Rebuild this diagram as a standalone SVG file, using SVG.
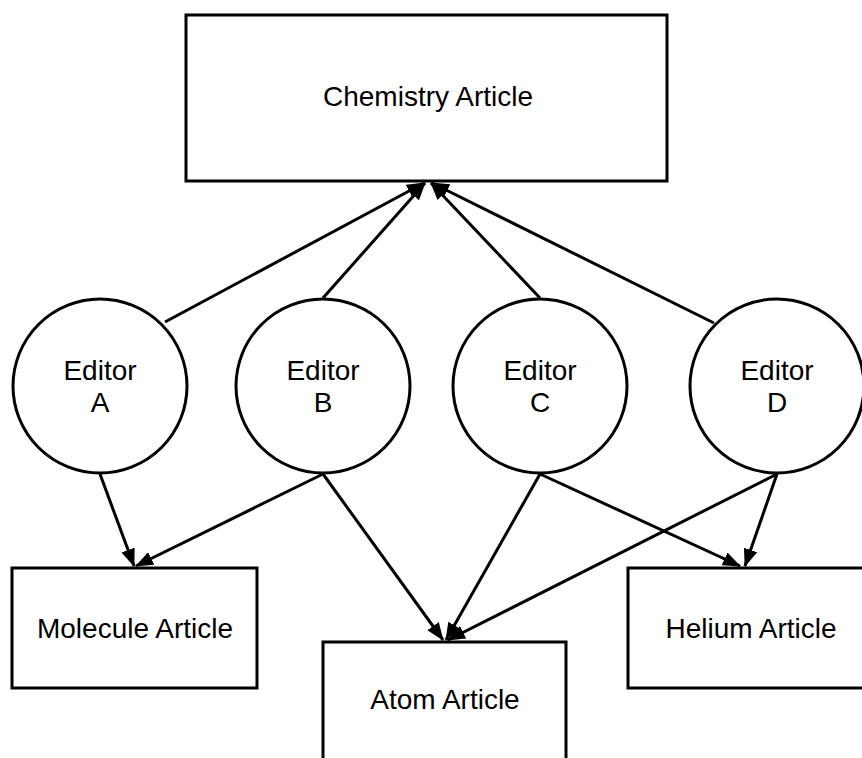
<svg xmlns="http://www.w3.org/2000/svg" width="862" height="758" viewBox="0 0 862 758">
<style>
.box{fill:#fff;stroke:#000;stroke-width:3}
.ed{fill:#fff;stroke:#000;stroke-width:3}
.t{font-family:"Liberation Sans",Arial,sans-serif;font-size:28px;fill:#000;text-anchor:middle}
.c line{stroke:#000;stroke-width:3;marker-end:url(#ah)}
</style>
<defs>
<marker id="ah" viewBox="0 0 18 14" refX="17" refY="7" markerWidth="18" markerHeight="14" markerUnits="userSpaceOnUse" orient="auto">
<path d="M0,0 L18,7 L0,14 Z" fill="#000"/>
</marker>
</defs>
<rect width="862" height="758" fill="#fff"/>
<g id="chemistry">
<rect class="box" x="186" y="15" width="481" height="166"/>
<text class="t" x="428" y="106">Chemistry Article</text>
</g>
<g id="molecule">
<rect class="box" x="12" y="568" width="245" height="120"/>
<text class="t" x="135" y="638">Molecule Article</text>
</g>
<g id="atom">
<rect class="box" x="323" y="642" width="243" height="130"/>
<text class="t" x="445" y="709">Atom Article</text>
</g>
<g id="helium">
<rect class="box" x="628" y="568" width="250" height="120"/>
<text class="t" x="751" y="638">Helium Article</text>
</g>
<g class="c" id="connectors">
<line x1="165" y1="322" x2="424" y2="183"/>
<line x1="323" y1="298" x2="425" y2="183"/>
<line x1="540" y1="298" x2="431" y2="183"/>
<line x1="714" y1="323" x2="432" y2="183"/>
<line x1="100" y1="474" x2="134" y2="566"/>
<line x1="323" y1="474" x2="136" y2="566"/>
<line x1="323" y1="474" x2="443" y2="640"/>
<line x1="540" y1="474" x2="446" y2="640"/>
<line x1="777" y1="474" x2="448" y2="640"/>
<line x1="540" y1="474" x2="740" y2="566"/>
<line x1="777" y1="474" x2="745" y2="566"/>
</g>
<g id="editorA">
<circle class="ed" cx="100" cy="386" r="87"/>
<text class="t" x="100" y="380">Editor</text>
<text class="t" x="100" y="412">A</text>
</g>
<g id="editorB">
<circle class="ed" cx="323" cy="386" r="87"/>
<text class="t" x="323" y="380">Editor</text>
<text class="t" x="323" y="412">B</text>
</g>
<g id="editorC">
<circle class="ed" cx="540" cy="386" r="87"/>
<text class="t" x="540" y="380">Editor</text>
<text class="t" x="540" y="412">C</text>
</g>
<g id="editorD">
<circle class="ed" cx="777" cy="386" r="87"/>
<text class="t" x="777" y="380">Editor</text>
<text class="t" x="777" y="412">D</text>
</g>
</svg>
